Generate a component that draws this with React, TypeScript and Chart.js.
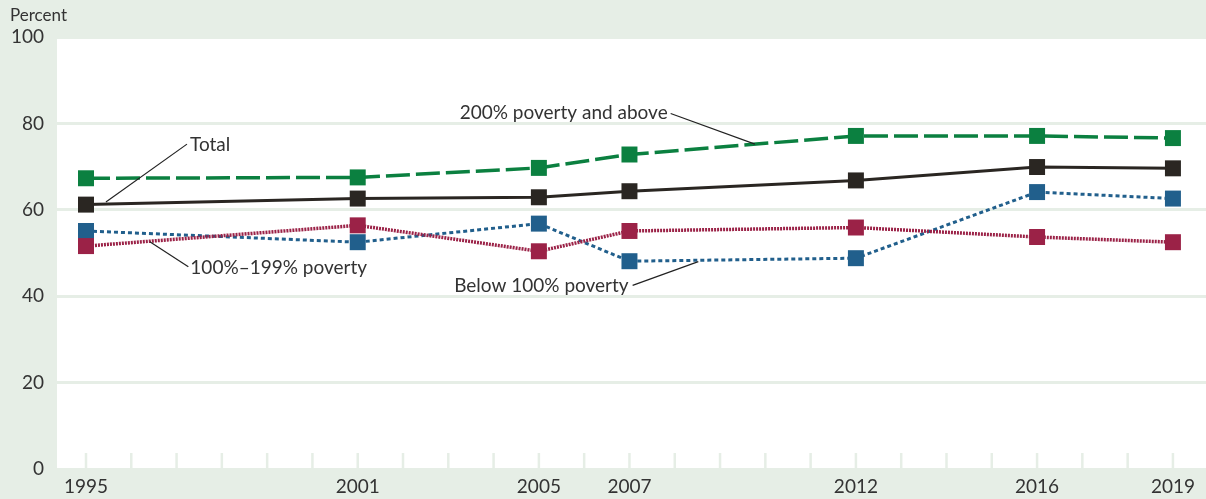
import React, { useEffect, useRef } from "react";
import { Chart, registerables } from "chart.js";

Chart.register(...registerables);

const years = [1995, 2001, 2005, 2007, 2012, 2016, 2019];
const tickYears = [1995, 2001, 2005, 2007, 2012, 2016, 2019];
const minorYears = [1995, 1996, 1997, 1998, 1999, 2000, 2001, 2002, 2003, 2004, 2005, 2006, 2007, 2008, 2009, 2010, 2011, 2012, 2013, 2014, 2015, 2016, 2017, 2018, 2019];

const total = [61.2, 62.6, 62.9, 64.3, 66.8, 69.9, 69.6];
const above200 = [67.3, 67.5, 69.7, 72.8, 77.1, 77.1, 76.6];
const pov100to199 = [51.6, 56.4, 50.4, 55.1, 55.9, 53.7, 52.5];
const below100 = [55.1, 52.5, 56.8, 48.1, 48.8, 64.1, 62.6];

// annotations: label, leader line from [x1,y1] (text end) to [x2,y2] (point on line)
const annotations = [
  { text: "Total", from: [1997.23, 75.2], to: [1995.44, 61.8], align: "left", dx: 3, dy: 1 },
  { text: "200% poverty and above", from: [2007.91, 82.3], to: [2009.77, 75.2], align: "right", dx: -3, dy: -1 },
  { text: "100%–199% poverty", from: [1997.26, 46.8], to: [1996.41, 52.6], align: "left", dx: 2, dy: 1 },
  { text: "Below 100% poverty", from: [2007.07, 42.5], to: [2008.52, 48.0], align: "right", dx: -4, dy: 0 },
];

const BG = "#e6eee6";
const FONT = "Lato, 'Open Sans', sans-serif";
const TEXT = "#333333";

const toXY = (xs: number[], ys: number[]) => xs.map((x, i) => ({ x, y: ys[i] }));

export default function App() {
  const ref = useRef<HTMLCanvasElement | null>(null);
  useEffect(() => {
    if (!ref.current) return;
    const bgPlugin = {
      id: "bgPlugin",
      beforeDraw(chart: any) {
        const { ctx, chartArea } = chart;
        ctx.save();
        ctx.fillStyle = BG;
        ctx.fillRect(0, 0, chart.width, chart.height);
        ctx.fillStyle = "#ffffff";
        ctx.fillRect(chartArea.left, chartArea.top, chartArea.right - chartArea.left, chartArea.bottom - chartArea.top);
        ctx.restore();
      },
      beforeDatasetsDraw(chart: any) {
        const { ctx, chartArea, scales } = chart;
        ctx.save();
        ctx.strokeStyle = BG;
        ctx.lineWidth = 2.5;
        minorYears.forEach((yr) => {
          const px = scales.x.getPixelForValue(yr);
          ctx.beginPath();
          ctx.moveTo(px, chartArea.bottom);
          ctx.lineTo(px, chartArea.bottom - 16);
          ctx.stroke();
        });
        ctx.restore();
      },
      afterDatasetsDraw(chart: any) {
        const { ctx, scales } = chart;
        ctx.save();
        ctx.strokeStyle = "#222222";
        ctx.lineWidth = 1.2;
        ctx.fillStyle = TEXT;
        ctx.font = `19px ${FONT}`;
        ctx.textBaseline = "middle";
        annotations.forEach((a) => {
          const x1 = scales.x.getPixelForValue(a.from[0]);
          const y1 = scales.y.getPixelForValue(a.from[1]);
          const x2 = scales.x.getPixelForValue(a.to[0]);
          const y2 = scales.y.getPixelForValue(a.to[1]);
          ctx.beginPath();
          ctx.moveTo(x1, y1);
          ctx.lineTo(x2, y2);
          ctx.stroke();
          ctx.textAlign = a.align as CanvasTextAlign;
          ctx.fillText(a.text, x1 + a.dx, y1 + a.dy);
        });
        ctx.font = `17px ${FONT}`;
        ctx.textAlign = "left";
        ctx.fillText("Percent", 10, 16);
        ctx.restore();
      },
    };

    const chart = new Chart(ref.current, {
      type: "line",
      data: {
        datasets: [
          {
            label: "Total",
            data: toXY(years, total),
            borderColor: "#2a2622",
            backgroundColor: "#2a2622",
            borderWidth: 3,
            pointStyle: "rect",
            pointRadius: 11.3,
            pointBorderWidth: 0,
          },
          {
            label: "200% poverty and above",
            data: toXY(years, above200),
            borderColor: "#0b8040",
            backgroundColor: "#0b8040",
            borderWidth: 3.5,
            borderDash: [24, 6],
            pointStyle: "rect",
            pointRadius: 11.3,
            pointBorderWidth: 0,
          },
          {
            label: "100%–199% poverty",
            data: toXY(years, pov100to199),
            borderColor: "#9b2247",
            backgroundColor: "#9b2247",
            borderWidth: 3.5,
            borderDash: [2, 1],
            pointStyle: "rect",
            pointRadius: 11.3,
            pointBorderWidth: 0,
          },
          {
            label: "Below 100% poverty",
            data: toXY(years, below100),
            borderColor: "#215f8c",
            backgroundColor: "#215f8c",
            borderWidth: 3,
            borderDash: [4, 3],
            pointStyle: "rect",
            pointRadius: 11.3,
            pointBorderWidth: 0,
          },
        ],
      },
      options: {
        animation: false,
        responsive: true,
        maintainAspectRatio: false,
        layout: { autoPadding: false, padding: { top: 37, right: 0, left: 0, bottom: 0 } },
        plugins: { legend: { display: false }, tooltip: { enabled: false } },
        elements: { line: { tension: 0 } },
        scales: {
          x: {
            type: "linear",
            min: 1994.36,
            max: 2019.73,
            grid: { display: false, drawTicks: false },
            border: { display: false },
            afterBuildTicks: (scale: any) => {
              scale.ticks = tickYears.map((v) => ({ value: v }));
            },
            afterFit: (scale: any) => {
              scale.height = 30;
              scale.paddingLeft = 0;
              scale.paddingRight = 0;
            },
            ticks: {
              autoSkip: false,
              maxRotation: 0,
              padding: 6,
              color: TEXT,
              font: { family: FONT, size: 19 },
              callback: (v: any) => String(v),
            },
          },
          y: {
            min: 0,
            max: 100,
            grid: { color: BG, lineWidth: 3, drawTicks: false },
            border: { display: false },
            afterFit: (scale: any) => {
              scale.width = 57;
              scale.paddingTop = 0;
              scale.paddingBottom = 0;
            },
            ticks: {
              stepSize: 20,
              padding: 13,
              color: TEXT,
              font: { family: FONT, size: 19 },
            },
          },
        },
      },
      plugins: [bgPlugin],
    });
    return () => chart.destroy();
  }, []);

  return (
    <div style={{ position: "absolute", left: 0, top: 0, width: 1206, height: 499 }}>
      <canvas ref={ref} />
    </div>
  );
}
